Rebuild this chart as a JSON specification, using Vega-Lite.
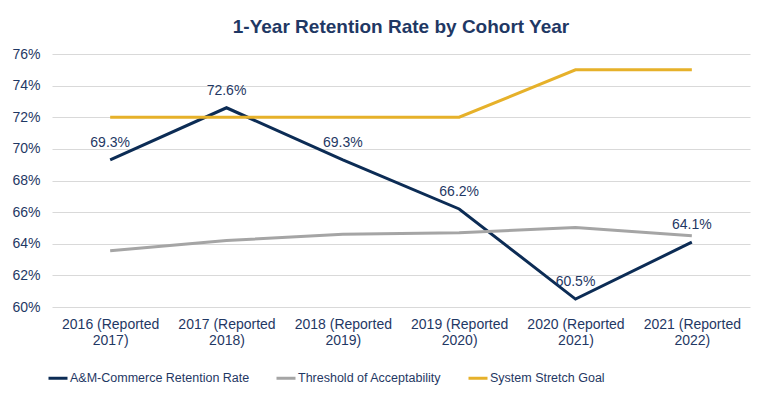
{
  "$schema": "https://vega.github.io/schema/vega-lite/v6.json",
  "width": 698,
  "height": 253,
  "autosize": {"type": "none"},
  "padding": {"left": 52, "top": 54, "right": 33, "bottom": 92},
  "background": "white",
  "title": {
    "text": "1-Year Retention Rate by Cohort Year",
    "font": "Liberation Sans",
    "fontSize": 19,
    "fontWeight": "bold",
    "color": "#1F3864",
    "anchor": "middle",
    "offset": 10
  },
  "config": {
    "view": {"stroke": null},
    "font": "Liberation Sans"
  },
  "data": {
    "values": [
      {"cohort": "2016 (Reported 2017)", "series": "A&M-Commerce Retention Rate", "value": 69.3},
      {"cohort": "2017 (Reported 2018)", "series": "A&M-Commerce Retention Rate", "value": 72.6},
      {"cohort": "2018 (Reported 2019)", "series": "A&M-Commerce Retention Rate", "value": 69.3},
      {"cohort": "2019 (Reported 2020)", "series": "A&M-Commerce Retention Rate", "value": 66.2},
      {"cohort": "2020 (Reported 2021)", "series": "A&M-Commerce Retention Rate", "value": 60.5},
      {"cohort": "2021 (Reported 2022)", "series": "A&M-Commerce Retention Rate", "value": 64.1},
      {"cohort": "2016 (Reported 2017)", "series": "Threshold of Acceptability", "value": 63.55},
      {"cohort": "2017 (Reported 2018)", "series": "Threshold of Acceptability", "value": 64.2},
      {"cohort": "2018 (Reported 2019)", "series": "Threshold of Acceptability", "value": 64.6},
      {"cohort": "2019 (Reported 2020)", "series": "Threshold of Acceptability", "value": 64.7},
      {"cohort": "2020 (Reported 2021)", "series": "Threshold of Acceptability", "value": 65.03},
      {"cohort": "2021 (Reported 2022)", "series": "Threshold of Acceptability", "value": 64.5},
      {"cohort": "2016 (Reported 2017)", "series": "System Stretch Goal", "value": 72},
      {"cohort": "2017 (Reported 2018)", "series": "System Stretch Goal", "value": 72},
      {"cohort": "2018 (Reported 2019)", "series": "System Stretch Goal", "value": 72},
      {"cohort": "2019 (Reported 2020)", "series": "System Stretch Goal", "value": 72},
      {"cohort": "2020 (Reported 2021)", "series": "System Stretch Goal", "value": 75},
      {"cohort": "2021 (Reported 2022)", "series": "System Stretch Goal", "value": 75}
    ]
  },
  "encoding": {
    "x": {
      "field": "cohort",
      "type": "nominal",
      "sort": null,
      "scale": {"type": "point", "padding": 0.5},
      "axis": {
        "title": null,
        "labelAngle": 0,
        "labelExpr": "[substring(datum.label, 0, 14), substring(datum.label, 15)]",
        "labelFont": "Liberation Sans",
        "labelFontSize": 14,
        "labelColor": "#1F3864",
        "labelLineHeight": 16,
        "labelPadding": 10,
        "ticks": false,
        "domain": false,
        "grid": false
      }
    },
    "y": {
      "field": "value",
      "type": "quantitative",
      "scale": {"domain": [60, 76], "nice": false, "zero": false},
      "axis": {
        "title": null,
        "values": [60, 62, 64, 66, 68, 70, 72, 74, 76],
        "labelExpr": "datum.value + '%'",
        "labelFont": "Liberation Sans",
        "labelFontSize": 14,
        "labelColor": "#1F3864",
        "labelPadding": 12,
        "ticks": false,
        "domain": false,
        "grid": true,
        "gridColor": "#D9D9D9",
        "gridWidth": 1
      }
    }
  },
  "layer": [
    {
      "mark": {"type": "line", "strokeWidth": 3},
      "encoding": {
        "color": {
          "field": "series",
          "type": "nominal",
          "sort": ["A&M-Commerce Retention Rate", "Threshold of Acceptability", "System Stretch Goal"],
          "scale": {
            "domain": ["A&M-Commerce Retention Rate", "Threshold of Acceptability", "System Stretch Goal"],
            "range": ["#0C2C55", "#A5A5A5", "#E6B12A"]
          },
          "legend": {
            "title": null,
            "orient": "none",
            "direction": "horizontal",
            "legendX": -5,
            "legendY": 313,
            "symbolType": "stroke",
            "symbolSize": 361,
            "symbolStrokeWidth": 3,
            "labelFont": "Liberation Sans",
            "labelFontSize": 12.5,
            "labelLimit": 0,
            "labelColor": "#1F3864",
            "labelOffset": 1,
            "columnPadding": 20
          }
        }
      }
    },
    {
      "transform": [
        {"filter": "datum.series === 'A&M-Commerce Retention Rate'"},
        {"calculate": "format(datum.value, '.1f') + '%'", "as": "label"}
      ],
      "mark": {"type": "text", "dy": -17, "baseline": "middle", "align": "center", "fontSize": 14, "font": "Liberation Sans"},
      "encoding": {
        "text": {"field": "label", "type": "nominal"},
        "color": {"value": "#1F3864"}
      }
    }
  ]
}
